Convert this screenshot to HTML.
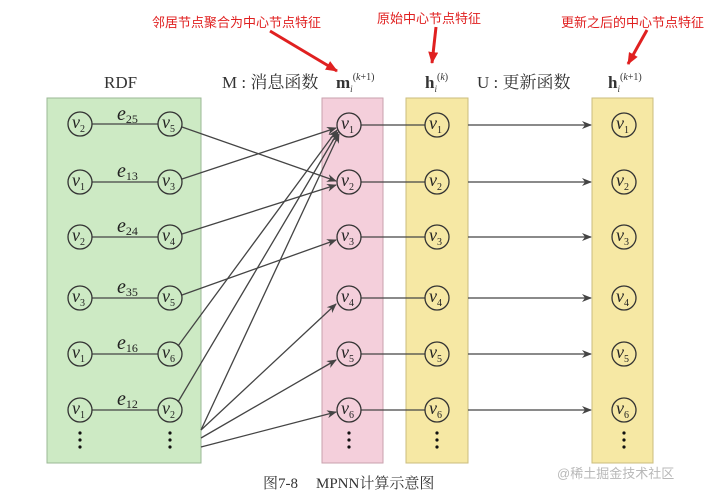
<!DOCTYPE html>
<html><head><meta charset="utf-8"><style>
html,body{margin:0;padding:0;background:#fff;}
svg{display:block;}
.v{font-family:"Liberation Serif",serif;font-style:italic;font-size:18px;fill:#222;}
.s{font-family:"Liberation Serif",serif;font-size:10px;fill:#222;font-style:normal;}
.es{font-family:"Liberation Serif",serif;font-size:12px;fill:#222;font-style:normal;}
.red{font-family:"Liberation Sans","Noto Sans CJK SC",sans-serif;font-size:13px;fill:#e02020;}
.hd{font-family:"Liberation Serif","Noto Serif CJK SC",serif;font-size:17px;fill:#333;}
</style></head><body>
<svg width="705" height="498" viewBox="0 0 705 498" xmlns="http://www.w3.org/2000/svg">
<defs>
<marker id="a" markerWidth="10" markerHeight="8" refX="9" refY="4" orient="auto" markerUnits="userSpaceOnUse"><path d="M0,0 L10,4 L0,8 L3,4 z" fill="#444"/></marker>
<marker id="r" markerWidth="12" markerHeight="10" refX="11" refY="5" orient="auto" markerUnits="userSpaceOnUse"><path d="M0,0 L12,5 L0,10 z" fill="#e02020"/></marker>
</defs>
<rect width="705" height="498" fill="#fff"/>
<text x="152" y="27" class="red">邻居节点聚合为中心节点特征</text>
<line x1="270" y1="31" x2="337" y2="71" stroke="#e02020" stroke-width="3" marker-end="url(#r)"/>
<text x="377" y="23" class="red">原始中心节点特征</text>
<line x1="436" y1="27" x2="432" y2="63" stroke="#e02020" stroke-width="3" marker-end="url(#r)"/>
<text x="561" y="27" class="red">更新之后的中心节点特征</text>
<line x1="647" y1="30" x2="628" y2="64" stroke="#e02020" stroke-width="3" marker-end="url(#r)"/>
<text x="104" y="88" class="hd">RDF</text>
<text x="222" y="88" class="hd">M : 消息函数</text>
<text x="336" y="88" class="hd" font-weight="bold">m<tspan font-style="italic" font-weight="normal" font-size="9" dy="4">i</tspan><tspan font-style="normal" font-weight="normal" font-size="10" dy="-12">(</tspan><tspan font-style="italic" font-weight="normal" font-size="10">k</tspan><tspan font-weight="normal" font-size="10">+1)</tspan></text>
<text x="425" y="88" class="hd" font-weight="bold">h<tspan font-style="italic" font-weight="normal" font-size="9" dy="4">i</tspan><tspan font-weight="normal" font-size="10" dy="-12">(</tspan><tspan font-style="italic" font-weight="normal" font-size="10">k</tspan><tspan font-weight="normal" font-size="10">)</tspan></text>
<text x="477" y="88" class="hd">U : 更新函数</text>
<text x="608" y="88" class="hd" font-weight="bold">h<tspan font-style="italic" font-weight="normal" font-size="9" dy="4">i</tspan><tspan font-weight="normal" font-size="10" dy="-12">(</tspan><tspan font-style="italic" font-weight="normal" font-size="10">k</tspan><tspan font-weight="normal" font-size="10">+1)</tspan></text>
<rect x="47" y="98" width="154" height="365" fill="#cdeac4" stroke="#9bb896" stroke-width="1"/>
<rect x="322" y="98" width="61" height="365" fill="#f4cfdb" stroke="#c9a2ae" stroke-width="1"/>
<rect x="406" y="98" width="62" height="365" fill="#f6e8a4" stroke="#cbbd7e" stroke-width="1"/>
<rect x="592" y="98" width="61" height="365" fill="#f6e8a4" stroke="#cbbd7e" stroke-width="1"/>
<g stroke="#444" stroke-width="1.3" fill="none">
<line x1="92" y1="124" x2="158" y2="124"/><line x1="92" y1="182" x2="158" y2="182"/>
<line x1="92" y1="237" x2="158" y2="237"/><line x1="92" y1="298" x2="158" y2="298"/>
<line x1="92" y1="354" x2="158" y2="354"/><line x1="92" y1="410" x2="158" y2="410"/>
<line x1="182" y1="127" x2="336" y2="181" marker-end="url(#a)"/>
<line x1="182" y1="179" x2="336" y2="128" marker-end="url(#a)"/>
<line x1="182" y1="234" x2="336" y2="185" marker-end="url(#a)"/>
<line x1="182" y1="295" x2="336" y2="240" marker-end="url(#a)"/>
<line x1="178" y1="346" x2="337" y2="130" marker-end="url(#a)"/>
<line x1="178" y1="402" x2="338" y2="132" marker-end="url(#a)"/>
<line x1="201" y1="430" x2="339" y2="134" marker-end="url(#a)"/>
<line x1="201" y1="430" x2="336" y2="304" marker-end="url(#a)"/>
<line x1="201" y1="438" x2="336" y2="360" marker-end="url(#a)"/>
<line x1="201" y1="447" x2="336" y2="412" marker-end="url(#a)"/>
<line x1="361" y1="125" x2="425" y2="125"/><line x1="361" y1="182" x2="425" y2="182"/>
<line x1="361" y1="237" x2="425" y2="237"/><line x1="361" y1="298" x2="425" y2="298"/>
<line x1="361" y1="354" x2="425" y2="354"/><line x1="361" y1="410" x2="425" y2="410"/>
<line x1="468" y1="125" x2="591" y2="125" marker-end="url(#a)"/><line x1="468" y1="182" x2="591" y2="182" marker-end="url(#a)"/>
<line x1="468" y1="237" x2="591" y2="237" marker-end="url(#a)"/><line x1="468" y1="298" x2="591" y2="298" marker-end="url(#a)"/>
<line x1="468" y1="354" x2="591" y2="354" marker-end="url(#a)"/><line x1="468" y1="410" x2="591" y2="410" marker-end="url(#a)"/>
</g>
<g class="v" style="font-size:20px">
<text x="117" y="120">e<tspan class="es" dy="3">25</tspan></text>
<text x="117" y="177">e<tspan class="es" dy="3">13</tspan></text>
<text x="117" y="232">e<tspan class="es" dy="3">24</tspan></text>
<text x="117" y="293">e<tspan class="es" dy="3">35</tspan></text>
<text x="117" y="349">e<tspan class="es" dy="3">16</tspan></text>
<text x="117" y="405">e<tspan class="es" dy="3">12</tspan></text>
</g>
<g stroke="#333" stroke-width="1.3" fill="none">
<circle cx="80" cy="124" r="12"/><circle cx="170" cy="124" r="12"/>
<circle cx="80" cy="182" r="12"/><circle cx="170" cy="182" r="12"/>
<circle cx="80" cy="237" r="12"/><circle cx="170" cy="237" r="12"/>
<circle cx="80" cy="298" r="12"/><circle cx="170" cy="298" r="12"/>
<circle cx="80" cy="354" r="12"/><circle cx="170" cy="354" r="12"/>
<circle cx="80" cy="410" r="12"/><circle cx="170" cy="410" r="12"/>
<circle cx="349" cy="125" r="12"/><circle cx="349" cy="182" r="12"/><circle cx="349" cy="237" r="12"/>
<circle cx="349" cy="298" r="12"/><circle cx="349" cy="354" r="12"/><circle cx="349" cy="410" r="12"/>
<circle cx="437" cy="125" r="12"/><circle cx="437" cy="182" r="12"/><circle cx="437" cy="237" r="12"/>
<circle cx="437" cy="298" r="12"/><circle cx="437" cy="354" r="12"/><circle cx="437" cy="410" r="12"/>
<circle cx="624" cy="125" r="12"/><circle cx="624" cy="182" r="12"/><circle cx="624" cy="237" r="12"/>
<circle cx="624" cy="298" r="12"/><circle cx="624" cy="354" r="12"/><circle cx="624" cy="410" r="12"/>
</g>
<g class="v">
<text x="72" y="128">v<tspan class="s" dy="4">2</tspan></text><text x="162" y="128">v<tspan class="s" dy="4">5</tspan></text>
<text x="72" y="186">v<tspan class="s" dy="4">1</tspan></text><text x="162" y="186">v<tspan class="s" dy="4">3</tspan></text>
<text x="72" y="241">v<tspan class="s" dy="4">2</tspan></text><text x="162" y="241">v<tspan class="s" dy="4">4</tspan></text>
<text x="72" y="302">v<tspan class="s" dy="4">3</tspan></text><text x="162" y="302">v<tspan class="s" dy="4">5</tspan></text>
<text x="72" y="358">v<tspan class="s" dy="4">1</tspan></text><text x="162" y="358">v<tspan class="s" dy="4">6</tspan></text>
<text x="72" y="414">v<tspan class="s" dy="4">1</tspan></text><text x="162" y="414">v<tspan class="s" dy="4">2</tspan></text>
<text x="341" y="129">v<tspan class="s" dy="4">1</tspan></text><text x="341" y="186">v<tspan class="s" dy="4">2</tspan></text><text x="341" y="241">v<tspan class="s" dy="4">3</tspan></text>
<text x="341" y="302">v<tspan class="s" dy="4">4</tspan></text><text x="341" y="358">v<tspan class="s" dy="4">5</tspan></text><text x="341" y="414">v<tspan class="s" dy="4">6</tspan></text>
<text x="429" y="129">v<tspan class="s" dy="4">1</tspan></text><text x="429" y="186">v<tspan class="s" dy="4">2</tspan></text><text x="429" y="241">v<tspan class="s" dy="4">3</tspan></text>
<text x="429" y="302">v<tspan class="s" dy="4">4</tspan></text><text x="429" y="358">v<tspan class="s" dy="4">5</tspan></text><text x="429" y="414">v<tspan class="s" dy="4">6</tspan></text>
<text x="616" y="129">v<tspan class="s" dy="4">1</tspan></text><text x="616" y="186">v<tspan class="s" dy="4">2</tspan></text><text x="616" y="241">v<tspan class="s" dy="4">3</tspan></text>
<text x="616" y="302">v<tspan class="s" dy="4">4</tspan></text><text x="616" y="358">v<tspan class="s" dy="4">5</tspan></text><text x="616" y="414">v<tspan class="s" dy="4">6</tspan></text>
</g>
<g fill="#111">
<circle cx="80" cy="433" r="1.6"/><circle cx="80" cy="440" r="1.6"/><circle cx="80" cy="447" r="1.6"/>
<circle cx="170" cy="433" r="1.6"/><circle cx="170" cy="440" r="1.6"/><circle cx="170" cy="447" r="1.6"/>
<circle cx="349" cy="433" r="1.6"/><circle cx="349" cy="440" r="1.6"/><circle cx="349" cy="447" r="1.6"/>
<circle cx="437" cy="433" r="1.6"/><circle cx="437" cy="440" r="1.6"/><circle cx="437" cy="447" r="1.6"/>
<circle cx="624" cy="433" r="1.6"/><circle cx="624" cy="440" r="1.6"/><circle cx="624" cy="447" r="1.6"/>
</g>
<text x="263" y="488" font-family="'Liberation Serif','Noto Serif CJK SC',serif" font-size="15" fill="#333">图7-8<tspan dx="18">MPNN计算示意图</tspan></text>
<text x="557" y="478" font-family="'Liberation Sans','Noto Sans CJK SC',sans-serif" font-size="13" fill="#b8b8b8">@稀土掘金技术社区</text>
</svg>
</body></html>
